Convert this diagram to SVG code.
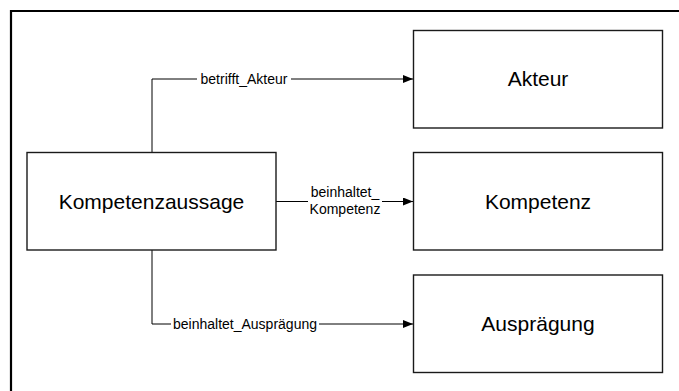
<svg xmlns="http://www.w3.org/2000/svg" width="679" height="391" viewBox="0 0 679 391">
<style>
.box{fill:#fff;stroke:#1a1a1a;stroke-width:1.4}
.lbl{font-family:"Liberation Sans",Arial,sans-serif;font-size:21px;fill:#000;text-anchor:middle}
.elbl{font-family:"Liberation Sans",Arial,sans-serif;font-size:14px;fill:#000;text-anchor:middle}
.edge{fill:none;stroke:#000;stroke-width:1}
.bg{fill:#fff}
</style>
<defs>
<marker id="arr" markerWidth="10" markerHeight="8" refX="10" refY="4" orient="auto" markerUnits="userSpaceOnUse">
<path d="M0,0 L10,4 L0,8 Z" fill="#000"/>
</marker>
</defs>
<rect width="679" height="391" fill="#fff"/>
<path d="M11,391 L11,11 L679,11" fill="none" stroke="#000" stroke-width="2.2"/>
<g id="connectors">
<path class="edge" d="M152,152 L152,79 L413,79" marker-end="url(#arr)"/>
<rect class="bg" x="197" y="71" width="94" height="16"/>
<text class="elbl" x="244" y="84">betrifft_Akteur</text>
<path class="edge" d="M276,201.5 L413,201.5" marker-end="url(#arr)"/>
<rect class="bg" x="308" y="186" width="74" height="32"/>
<text class="elbl" x="345" y="197">beinhaltet_</text>
<text class="elbl" x="345" y="214">Kompetenz</text>
<path class="edge" d="M152,250 L152,324 L413,324" marker-end="url(#arr)"/>
<rect class="bg" x="171" y="316" width="148" height="16"/>
<text class="elbl" x="245" y="329">beinhaltet_Ausprägung</text>
</g>
<g id="kompetenzaussage">
<rect class="box" x="27" y="152.5" width="249" height="97.5"/>
<text class="lbl" x="151.5" y="208.5">Kompetenzaussage</text>
</g>
<g id="akteur">
<rect class="box" x="413.5" y="30.5" width="249" height="97.5"/>
<text class="lbl" x="538" y="86">Akteur</text>
</g>
<g id="kompetenz">
<rect class="box" x="413.5" y="152.5" width="249" height="97.5"/>
<text class="lbl" x="538" y="208.5">Kompetenz</text>
</g>
<g id="auspraegung">
<rect class="box" x="413.5" y="275" width="249" height="97.5"/>
<text class="lbl" x="538" y="330.5">Ausprägung</text>
</g>
</svg>
